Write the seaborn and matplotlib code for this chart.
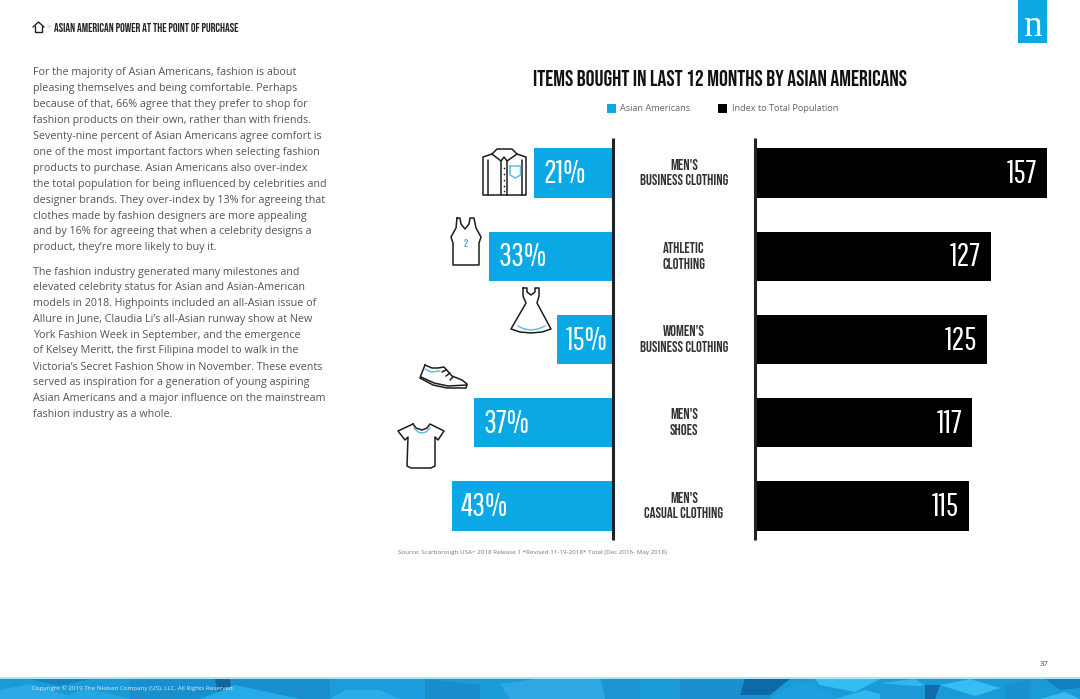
import pandas as pd
import numpy as np
import matplotlib.pyplot as plt
import matplotlib.font_manager as fm
from matplotlib.patches import Polygon, Rectangle
import seaborn as sns

categories = ["MEN'S\nBUSINESS CLOTHING", "ATHLETIC\nCLOTHING", "WOMEN'S\nBUSINESS CLOTHING",
              "MEN'S\nSHOES", "MEN'S\nCASUAL CLOTHING"]
asian_pct = [21, 33, 15, 37, 43]
index_total = [157, 127, 125, 117, 115]

para1 = ["For the majority of Asian Americans, fashion is about",
         "pleasing themselves and being comfortable. Perhaps",
         "because of that, 66% agree that they prefer to shop for",
         "fashion products on their own, rather than with friends.",
         "Seventy-nine percent of Asian Americans agree comfort is",
         "one of the most important factors when selecting fashion",
         "products to purchase. Asian Americans also over-index",
         "the total population for being influenced by celebrities and",
         "designer brands. They over-index by 13% for agreeing that",
         "clothes made by fashion designers are more appealing",
         "and by 16% for agreeing that when a celebrity designs a",
         "product, they\u2019re more likely to buy it."]
para2 = ["The fashion industry generated many milestones and",
         "elevated celebrity status for Asian and Asian-American",
         "models in 2018. Highpoints included an all-Asian issue of",
         "Allure in June, Claudia Li\u2019s all-Asian runway show at New",
         "York Fashion Week in September, and the emergence",
         "of Kelsey Meritt, the first Filipina model to walk in the",
         "Victoria\u2019s Secret Fashion Show in November. These events",
         "served as inspiration for a generation of young aspiring",
         "Asian Americans and a major influence on the mainstream",
         "fashion industry as a whole."]

BLUE = "#0ba8e6"
W, H = 1080, 699
df = pd.DataFrame({"cat": categories, "asian": asian_pct, "index": index_total})

sns.set_theme(style="white")
names = {f.name for f in fm.fontManager.ttflist}
narrow = next((n for n in ["Bebas Neue", "Oswald", "Antonio", "Archivo Narrow"] if n in names), "DejaVu Sans")
thin = next((n for n in ["Pathway Gothic One", "Antonio", "Bebas Neue"] if n in names), "DejaVu Sans")
plt.rcParams["font.family"] = ["Open Sans", "DejaVu Sans"]

fig = plt.figure(figsize=(W / 100, H / 100), dpi=100, facecolor="white")


def px_axes(x0, y0, x1, y1):
    return fig.add_axes([x0 / W, 1 - y1 / H, (x1 - x0) / W, (y1 - y0) / H])


# bars: 83.25 px between rows, first row centred on y=173
ymin, ymax = 138, 540
ylim = ((ymax - 173) / 83.25, (ymin - 173) / 83.25)

ax1 = px_axes(400, ymin, 613, ymax)
sns.barplot(data=df, y="cat", x="asian", orient="h", color=BLUE, saturation=1, width=0.59, linewidth=0, ax=ax1)
ax1.set_xlim(213 / 3.75, 0)
ax1.set_ylim(*ylim)

ax2 = px_axes(755, ymin, 1060, ymax)
sns.barplot(data=df, y="cat", x="index", orient="h", color="black", saturation=1, width=0.59, linewidth=0, ax=ax2)
ax2.set_xlim(0, 305 / 1.858)
ax2.set_ylim(*ylim)

for ax in (ax1, ax2):
    ax.set_xlabel("")
    ax.set_ylabel("")
    ax.set_xticks([])
    ax.set_yticks([])
    ax.patch.set_alpha(0)
    sns.despine(ax=ax, left=True, right=True, top=True, bottom=True)

for i, v in enumerate(asian_pct):
    ax1.annotate(f"{v}%", (v, i), xytext=(6.5, -0.8), textcoords="offset points", ha="left", va="center",
                 color="white", fontsize=23, family=thin)
for i, v in enumerate(index_total):
    ax2.annotate(str(v), (v, i), xytext=(-7, -0.8), textcoords="offset points", ha="right", va="center",
                 color="white", fontsize=23, family=thin)

# page furniture, drawn in pixel coordinates
pg = fig.add_axes([0, 0, 1, 1], zorder=5)
pg.set_xlim(0, W)
pg.set_ylim(H, 0)
pg.axis("off")
pg.patch.set_alpha(0)

pg.plot([613, 613], [ymin, ymax], color="#1d2228", lw=2.2, solid_capstyle="butt")
pg.plot([755, 755], [ymin, ymax], color="#222", lw=2.2, solid_capstyle="butt")

for i, lines in enumerate(categories):
    pg.text(684, 172 + 83.25 * i, lines, ha="center", va="center", family=narrow, fontsize=10.5,
            color="#333", linespacing=1.43)

pg.text(720, 78, "ITEMS BOUGHT IN LAST 12 MONTHS BY ASIAN AMERICANS", ha="center", va="center",
        family=narrow, fontsize=15.85, color="#111")
pg.add_patch(Rectangle((607, 104), 9, 9, color=BLUE, lw=0))
pg.text(620, 108.5, "Asian Americans", va="center", fontsize=6.6, color="#666")
pg.add_patch(Rectangle((718, 104), 9, 9, color="black", lw=0))
pg.text(732, 108.5, "Index to Total Population", va="center", fontsize=6.6, color="#666")
pg.text(398, 552.5, "Source: Scarborough USA+ 2018 Release 1 *Revised 11-19-2018* Total (Dec 2016- May 2018)",
        va="center", fontsize=4.5, color="#777")

ys1 = [73, 89, 104.5, 120.5, 136.5, 152.5, 168, 184, 200, 216, 231.5, 247.5]
ys2 = [272, 287.5, 303.5, 319.5, 335.5, 351, 367, 382.5, 398.5, 414.5]
for y, line_txt in zip(ys1 + ys2, para1 + para2):
    pg.text(33, y, line_txt, va="center", fontsize=7.78, color="#555")

# header
pg.plot([33, 38.5, 44], [27, 22, 27], color="#222", lw=1)
pg.plot([35, 35, 42, 42], [26, 31.5, 31.5, 26], color="#222", lw=1)
pg.text(46.5, 27.5, ">", va="center", fontsize=6, color="#6cc5c9")
pg.text(53.5, 27.5, "ASIAN AMERICAN POWER AT THE POINT OF PURCHASE", va="center", family=narrow,
        fontsize=8.5, color="#222")

# logo
pg.add_patch(Rectangle((1018, 0), 29, 43, color=BLUE, lw=0))
pg.text(1032.5, 27, "n", ha="center", va="center", color="white", fontsize=27, family="Liberation Serif")

ink = dict(color="#1d1d1d", lw=1.1, solid_joinstyle="round", solid_capstyle="round")
teal = dict(color="#62bfdc", lw=1.1)


def line(pts, **kw):
    pts = np.array(pts, dtype=float)
    pg.plot(pts[:, 0], pts[:, 1], **kw)


# shirt
line([(492, 154), (483, 157), (483, 195), (526, 195), (526, 157), (517, 154)], **ink)
line([(492, 154), (497, 149), (512, 149), (517, 154), (507, 161), (504, 157), (501, 161), (492, 154)], **ink)
line([(501, 161), (501, 195)], **ink)
line([(507, 161), (507, 195)], **ink)
line([(488, 160), (488, 195)], **ink)
line([(522, 160), (522, 195)], **ink)
line([(510, 166), (510, 175), (515.5, 178), (520.5, 175), (520.5, 166), (510, 166)], **teal)
pg.scatter([504] * 5, [168, 174, 180, 186, 191], s=1.5, color="#1d1d1d", lw=0)

# tank top
line([(457, 218), (456, 228), (451, 237), (453, 243), (453, 265), (479, 265), (479, 243), (481, 237),
      (476, 228), (474, 218), (470, 218), (469, 224), (465, 229), (461, 224), (460, 218), (457, 218)], **ink)
pg.text(465.5, 243, "2", ha="center", va="center", fontsize=8, color="#62a8cc", family=narrow)

# dress
line([(523, 288), (523, 296), (526, 303), (511, 329), (520, 332), (531, 333), (542, 332), (551, 329),
      (537, 303), (539, 296), (539, 288), (535, 288), (535, 292), (531, 295), (527, 292), (527, 288), (523, 288)], **ink)
line([(518, 326), (524, 329), (531, 330), (538, 329), (545, 326)], **teal)

# shoe
line([(425, 365), (421, 375), (420, 378), (433, 385), (447, 388), (466, 388), (467, 384), (462, 380),
      (452, 376), (444, 367), (438, 368), (432, 368), (425, 365)], **ink)
line([(421, 377), (434, 383), (448, 386), (467, 385)], **ink)
line([(425, 369), (431, 372), (440, 371)], **teal)
line([(442, 372), (446, 370)], **ink)
line([(446, 376), (450, 373)], **ink)
line([(450, 380), (453, 377)], **ink)

# t-shirt
line([(413, 424), (398, 431), (405, 440), (408, 437), (407, 466), (411, 468), (431, 468), (435, 466),
      (435, 437), (438, 440), (444, 431), (430, 424), (427, 428), (422, 430), (416, 428), (413, 424)], **ink)
line([(414, 428), (418, 432), (422, 433), (426, 432), (430, 428)], **teal)

# footer band of blue blocks
pg.add_patch(Rectangle((0, 678), W, 21, color="#1a9bd8", lw=0))
pg.add_patch(Rectangle((0, 677), W, 1.5, color="#a9e6fa", lw=0))
blocks = [
    ("#2aa9e6", [(0, 690), (30, 684), (80, 699), (0, 699)]),
    ("#1683c4", [(30, 679), (90, 679), (60, 686)]),
    ("#1a8fd0", [(130, 679), (330, 679), (330, 699), (130, 699)]),
    ("#25a7e3", [(85, 688), (130, 699), (60, 699)]),
    ("#12659f", [(215, 679), (230, 679), (232, 695), (218, 695)]),
    ("#26abe8", [(235, 685), (300, 699), (200, 699)]),
    ("#1c9cdc", [(330, 679), (430, 679), (430, 699), (330, 699)]),
    ("#28ade9", [(345, 690), (380, 690), (400, 699), (330, 699)]),
    ("#1a8bcb", [(425, 679), (480, 685), (480, 699), (425, 699)]),
    ("#2fa8e2", [(500, 684), (535, 679), (600, 679), (605, 699), (510, 699)]),
    ("#1e93d2", [(605, 679), (640, 679), (640, 699), (605, 699)]),
    ("#1b8fd0", [(680, 679), (770, 679), (770, 699), (680, 699)]),
    ("#0d6aa8", [(745, 679), (790, 679), (770, 695), (740, 695)]),
    ("#1fa0de", [(770, 699), (795, 684), (810, 684), (840, 699)]),
    ("#34bdf1", [(815, 679), (880, 679), (855, 692), (820, 685)]),
    ("#2fb8ee", [(835, 699), (865, 690), (900, 699)]),
    ("#30b6ec", [(880, 683), (915, 679), (925, 685), (900, 692)]),
    ("#1d9ad8", [(880, 683), (925, 687), (930, 699), (880, 699)]),
    ("#36bdf2", [(940, 685), (970, 679), (1000, 688), (975, 696)]),
    ("#0f6ca9", [(925, 685), (940, 685), (935, 699), (925, 699)]),
    ("#1b90cf", [(1005, 685), (1030, 679), (1030, 699), (1005, 699)]),
    ("#3ab9ec", [(1040, 699), (1065, 692), (1080, 699)]),
    ("#137fbf", [(1045, 679), (1080, 679), (1080, 688), (1060, 690)]),
]
for colour, pts in blocks:
    pg.add_patch(Polygon(pts, closed=True, color=colour, lw=0))

pg.text(32, 688.5, "Copyright \u00a9 2019 The Nielsen Company (US), LLC. All Rights Reserved.", va="center",
        fontsize=4.5, color="#d5eef9")
pg.text(1044, 664.5, "37", ha="center", va="center", fontsize=5.5, color="#444")

fig.savefig("out.png", dpi=100)
